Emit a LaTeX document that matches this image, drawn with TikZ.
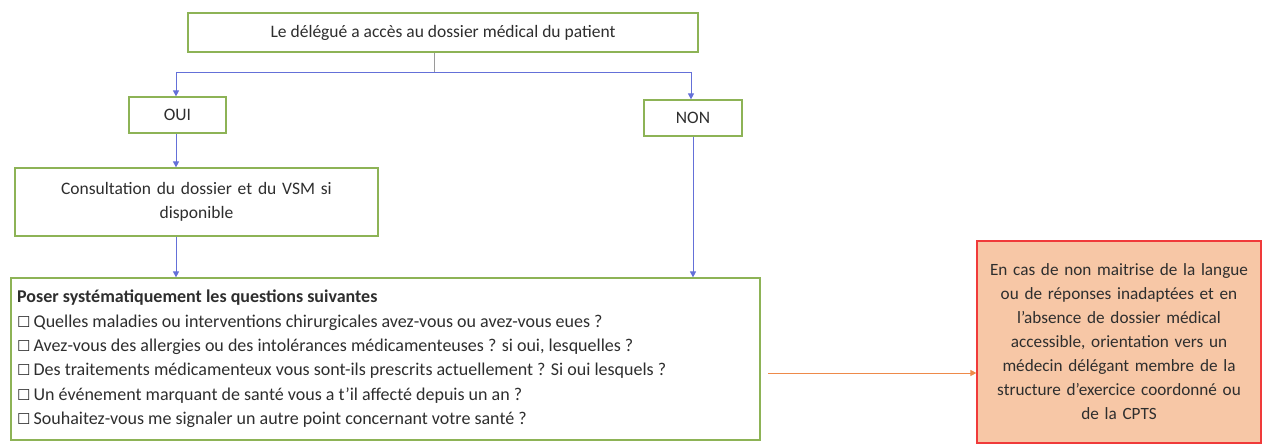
\documentclass[tikz,border=0pt]{standalone}
\usepackage{fontspec}
\setmainfont{Carlito}
\newfontfamily\symfont{DejaVu Sans}
\usetikzlibrary{arrows.meta,calc}
\definecolor{boxgreen}{HTML}{8DB356}
\definecolor{flowblue}{HTML}{6470D8}
\definecolor{linkgray}{HTML}{9A9A9A}
\definecolor{warnorange}{HTML}{EE8A4A}
\definecolor{alertred}{HTML}{F03A3A}
\definecolor{alertfill}{HTML}{F7C7A6}
\definecolor{inkgray}{HTML}{2E2E2E}
\newcommand{\chk}{{\symfont\fontsize{15}{15}\selectfont ☐}\,}
\tikzset{
  x=1pt, y=-1pt,
  stepbox/.style={draw=boxgreen, line width=1.2pt, fill=white, text=inkgray,
    inner sep=0pt, font=\fontsize{17.5}{24}\selectfont, align=center},
  flow/.style={draw=flowblue, line width=0.9pt, -{Triangle[width=6pt,length=6pt]}},
  alertbox/.style={draw=alertred, line width=1.2pt, fill=alertfill, text=inkgray,
    inner sep=0pt, font=\fontsize{17.2}{24}\selectfont, align=center},
}
\begin{document}
\begin{tikzpicture}
\useasboundingbox (0,0) rectangle (1266,446);

% decision and answers
\node[stepbox, minimum width=510pt, minimum height=39pt] (top) at (443,32.5)
  {Le délégué a accès au dossier médical du patient};
\node[stepbox, minimum width=97pt, minimum height=36pt] (oui) at (177.5,115) {OUI};
\node[stepbox, minimum width=98pt, minimum height=36pt] (non) at (693,118) {NON};
\node[stepbox, minimum width=363pt, minimum height=68pt, text width=340pt] (cons) at (196.5,202)
  {Consultation du dossier et du VSM si\\disponible};

% question list
\node[draw=boxgreen, line width=1.2pt, fill=white, minimum width=749pt, minimum height=162pt,
  inner sep=0pt] (quest) at (385.5,359) {};
\node[anchor=north west, inner sep=0pt, text=inkgray, align=left,
  font=\fontsize{18}{24.3}\selectfont] (qtext) at (17,290)
  {\textbf{Poser systématiquement les questions suivantes}\\
   \chk Quelles maladies ou interventions chirurgicales avez-vous ou avez-vous eues ?\\
   \chk Avez-vous des allergies ou des intolérances médicamenteuses ? si oui, lesquelles ?\\
   \chk Des traitements médicamenteux vous sont-ils prescrits actuellement ? Si oui lesquels ?\\
   \chk Un événement marquant de santé vous a t’il affecté depuis un an ?\\
   \chk Souhaitez-vous me signaler un autre point concernant votre santé ?};

% referral
\node[alertbox, minimum width=284pt, minimum height=202pt, text width=275pt] (ref) at (1119,342)
  {En cas de non maitrise de la langue\\ou de réponses inadaptées et en\\l’absence de dossier médical\\accessible, orientation vers un\\médecin délégant membre de la\\structure d’exercice coordonné ou\\de la CPTS};

% connectors
\coordinate (split) at (434,72);
\coordinate (lft) at (176,72);
\coordinate (rgt) at (691,72);
\draw[linkgray, line width=0.9pt] (top.south -| split) -- (split);
\draw[flowblue, line width=0.9pt] (lft) -- (rgt);
\draw[flow] (lft) -- (lft |- oui.north);
\draw[flow] (rgt) -- (rgt |- non.north);
\draw[flow] (oui.south -| lft) -- (lft |- cons.north);
\draw[flow] (cons.south -| lft) -- (lft |- quest.north);
\draw[flow] (non.south) -- (non.south |- quest.north);
\coordinate (ostart) at (768,373);
\draw[draw=warnorange, line width=0.9pt, -{Triangle[width=6pt,length=6pt]}] (ostart) -- (ostart -| ref.west);
\end{tikzpicture}
\end{document}
